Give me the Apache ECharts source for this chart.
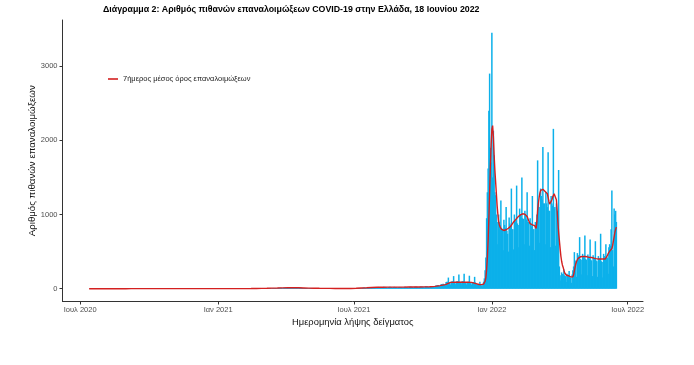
<!DOCTYPE html>
<html><head><meta charset="utf-8">
<script src="https://cdn.jsdelivr.net/npm/echarts@6/dist/echarts.min.js"></script>
<style>html,body{margin:0;padding:0;background:#fff}#c{width:694px;height:365px}</style>
</head><body><div id="c"></div>
<script>
const titleText = 'Διάγραμμα 2: Αριθμός πιθανών επαναλοιμώξεων COVID-19 στην Ελλάδα, 18 Ιουνίου 2022';
const yAxisTitle = 'Αριθμός πιθανών επαναλοιμώξεων';
const xAxisTitle = 'Ημερομηνία λήψης δείγματος';
const legendLabel = '7ήμερος μέσος όρος επαναλοιμώξεων';
const xTickDates = ['2020-07-01','2021-01-01','2021-07-01','2022-01-01','2022-07-01'];
const xTickLabels = ['Ιουλ 2020','Ιαν 2021','Ιουλ 2021','Ιαν 2022','Ιουλ 2022'];
const yTickValues = [0, 1000, 2000, 3000];

// daily probable reinfections (bars), by sample date
const daily2020Start = '2020-07-13';
const daily2020 = [0,0,1,0,0,0,0,0,1,0,0,0,0,0,0,1,0,0,0,
 0,0,1,0,0,0,0,1,0,0,0,0,1,0,0,0,0,0,1,0,0,0,0,1,0,0,0,0,1,0,0,
 0,1,0,0,0,1,0,0,1,0,0,0,1,0,0,1,0,0,0,1,0,0,1,0,0,0,1,0,0,1,
 0,1,0,0,1,0,1,0,0,1,0,1,0,0,1,1,0,1,0,1,1,0,1,0,1,1,0,1,1,0,1,
 1,1,2,1,1,2,1,1,2,2,1,1,2,1,2,2,1,2,1,2,2,1,2,1,1,2,1,1,2,1,
 1,1,2,1,1,1,2,1,1,1,1,2,1,1,1,1,2,1,1,1,0,1,1,1,0,1,1,0,1,1,0];
const daily2021aStart = '2021-01-01';
const daily2021a = [1,0,1,1,1,0,1,1,1,0,1,1,2,1,1,0,1,1,2,1,1,1,0,1,2,1,1,2,1,1,1,
 1,2,1,2,1,1,1,2,2,1,2,3,2,1,2,3,2,3,2,3,3,2,4,3,4,5,3,4,
 5,6,5,7,6,4,5,7,8,7,8,9,6,5,8,10,9,11,10,7,6,10,12,11,12,13,9,7,12,13,12,
 14,13,10,8,12,14,13,15,14,11,9,13,14,12,13,12,10,8,12,12,11,12,10,9,7,10,11,10,9,8,
 7,6,9,9,8,9,8,6,5,8,8,7,7,6,5,4,6,6,5,5,5,4,3,5,5,4,4,4,3,3,4,
 3,3,4,3,3,2,2,3,3,3,2,3,2,2,3,3,2,3,3,2,2,3,3,3,4,3,2,4,4,5];
const daily2021bStart = '2021-07-01';
const daily2021b = [6,7,6,4,8,9,10,11,10,7,6,11,13,14,15,13,9,8,15,17,18,19,16,12,10,19,21,22,20,18,14,
 12,22,24,23,22,20,15,13,24,25,23,24,21,16,12,22,24,26,23,22,17,14,23,25,24,22,21,15,13,22,24,
 23,21,20,15,12,22,25,24,23,21,16,13,24,26,25,24,22,17,14,25,27,26,25,23,18,15,27,29,28,27,
 26,20,16,30,32,31,30,28,22,18,34,36,35,34,31,25,20,40,44,43,50,46,37,30,55,62,60,66,64,52,45,
 90,95,92,150,88,72,55,95,100,98,170,92,75,58,98,102,100,190,94,78,60,96,100,98,200,92,76,58,92,95,
 94,175,88,72,54,90,92,88,160,84,68,50,62,64,60,95,58,46,34,66,95,140,250,420,950,1300,1620,2400,2900,1900,1700];
const daily2022Start = '2022-01-01';
const daily2022 = [3450,1500,
 2130,1800,1300,1260,1000,900,600,
 1000,900,860,1190,820,800,520,
 930,860,820,1100,780,740,500,
 960,880,850,1350,800,800,530,
 1000,920,900,1390,880,860,560,
 1080,1000,960,1500,950,940,600,
 1050,980,930,1300,900,900,580,
 950,880,840,1250,800,800,520,
 900,860,1000,1730,1150,1100,620,
 1350,1250,1200,1910,1150,1150,600,
 1300,1150,1100,1840,1050,1050,560,
 1250,1150,1120,2155,1080,1100,580,
 1150,1050,1000,1600,300,180,110,
 220,200,190,260,180,170,90,
 200,180,170,240,150,150,80,
 190,250,300,493,380,350,160,
 480,450,430,695,400,390,190,
 470,440,420,718,400,390,180,
 460,430,410,665,390,380,170,
 450,420,400,640,380,370,160,
 440,410,390,741,370,360,150,
 470,440,420,600,430,420,200,
 560,600,580,800,1325,520,300,
 1080,1000,1050,900];

// 7-day average (red line)
const avgWeekly2020Start = '2020-07-13';
const avgWeekly2020 = [0.3,0.3,0.3,0.3,0.3,0.3,0.3,0.3,0.4,0.4,0.4,0.4,0.5,0.5,0.6,0.8,1.2,1.4,1.5,1.5,1.3,1.2,1.0,0.8];
const avgWeekly2021Start = '2021-01-03';
const avgWeekly2021 = [0.8,0.9,1,1.1,1.2,1.4,2,2.8,4,5.5,7.5,9,11,12,12,12,10,8,7,5.5,4.5,3.8,3,2.6,2.6,3.3,6,9,12,16,19,20,21,21,21,21,22,22,23,24,27,31,42,55,85,88,88,88,85,66];
const avgDec2021 = [60,58,57,57,56,55,55,58,62,75,100,150,260,420,650,950,1300,1650,1950];
const avgJan2022 = [2150,2200,2050,1800,1600,1440,1280,1120,1000,900,860,830,810,800,795,790,785,785,790,795,800,810,815,820,830,840,853,870,885,900,915];
const avgFeb2022 = [925,935,945,960,970,975,985,995,1000,1005,1010,1010,1010,1005,1000,990,975,950,920,895,876,865,860,860,858,855,850,830];
const avgMar2022 = [812,900,1055,1150,1230,1290,1325,1340,1345,1340,1330,1320,1310,1300,1290,1280,1230,1180,1140,1123,1160,1200,1235,1260,1280,1290,1270,1200,1055,900,760];
const avgApr2022 = [650,540,440,370,320,290,250,215,195,185,180,178,175,170,165,160,157,157,160,190,240,290,337,370,395,410,420,426,430,432];
const avgMay2022 = [434,435,436,436,435,434,432,430,428,425,423,421,420,420,418,415,412,410,408,405,403,402,400,400,400,400,400,400,400,400,400];
const avgJun2022 = [400,410,425,445,472,490,505,515,525,540,580,640,700,760,800,830];

const DAY = 86400000;
function ts(s){ const p = s.split('-').map(Number); return Date.UTC(p[0], p[1]-1, p[2]); }
function seg(start, arr, step){ const t0 = ts(start); return arr.map((v,i)=>[t0 + i*step*DAY, v]); }

const barData = [].concat(
  seg(daily2020Start, daily2020, 1), seg(daily2021aStart, daily2021a, 1),
  seg(daily2021bStart, daily2021b, 1), seg(daily2022Start, daily2022, 1));
const lineData = [].concat(
  seg(avgWeekly2020Start, avgWeekly2020, 7), seg(avgWeekly2021Start, avgWeekly2021, 7),
  seg('2021-12-13', avgDec2021, 1), seg('2022-01-01', avgJan2022, 1), seg('2022-02-01', avgFeb2022, 1),
  seg('2022-03-01', avgMar2022, 1), seg('2022-04-01', avgApr2022, 1), seg('2022-05-01', avgMay2022, 1),
  seg('2022-06-01', avgJun2022, 1));

const xTicks = xTickDates.map(ts);
const FONT = 'Liberation Sans, Arial, sans-serif';
const chart = echarts.init(document.getElementById('c'), null, {renderer:'canvas'});
chart.setOption({
  animation: false,
  textStyle: { fontFamily: FONT },
  title: { text: titleText, left: 103, top: 5, padding: 0,
    textStyle: { fontSize: 8.8, fontWeight: 'bold', color: '#000', fontFamily: FONT } },
  legend: { data: [legendLabel], left: 108, top: 75, padding: 0, icon: 'rect', itemWidth: 10, itemHeight: 1.6,
    itemGap: 5, textStyle: { fontSize: 7.5, color: '#222', fontFamily: FONT } },
  grid: { left: 62.5, right: 51, top: 20, bottom: 63.5, containLabel: false },
  xAxis: {
    type: 'value',
    min: ts('2020-06-08') - 0.5*DAY, max: ts('2022-07-21') + 0.5*DAY,
    splitLine: { show: false },
    axisLine: { onZero: false, lineStyle: { color: '#333', width: 1 } },
    axisTick: { customValues: xTicks, length: 3, lineStyle: { color: '#333' } },
    axisLabel: { customValues: xTicks, color: '#4d4d4d', fontSize: 7.5, margin: 4,
      formatter: function(v){ const i = xTicks.indexOf(v); return i >= 0 ? xTickLabels[i] : ''; } },
    name: xAxisTitle, nameLocation: 'middle', nameGap: 14,
    nameTextStyle: { fontSize: 9.4, color: '#111', fontFamily: FONT }
  },
  yAxis: {
    type: 'value', min: -172.5, max: 3622.5,
    splitLine: { show: false },
    axisLine: { show: true, onZero: false, lineStyle: { color: '#333', width: 1 } },
    axisTick: { show: true, customValues: yTickValues, length: 3, lineStyle: { color: '#333' } },
    axisLabel: { customValues: yTickValues, color: '#4d4d4d', fontSize: 7.5, margin: 5,
      formatter: function(v){ return String(v); } },
    name: yAxisTitle, nameLocation: 'middle', nameGap: 25, nameRotate: 90, nameMoveOverlap: false,
    nameTextStyle: { fontSize: 9.7, color: '#111', fontFamily: FONT }
  },
  series: [
    { type: 'bar', name: 'daily', data: barData, barWidth: 1.5,
      itemStyle: { color: '#0cb0ea' }, z: 2, silent: true },
    { type: 'line', name: legendLabel, data: lineData, symbol: 'none', showSymbol: false,
      lineStyle: { color: '#d42020', width: 1.4 }, itemStyle: { color: '#d42020' }, z: 3, silent: true }
  ]
});
</script></body></html>
